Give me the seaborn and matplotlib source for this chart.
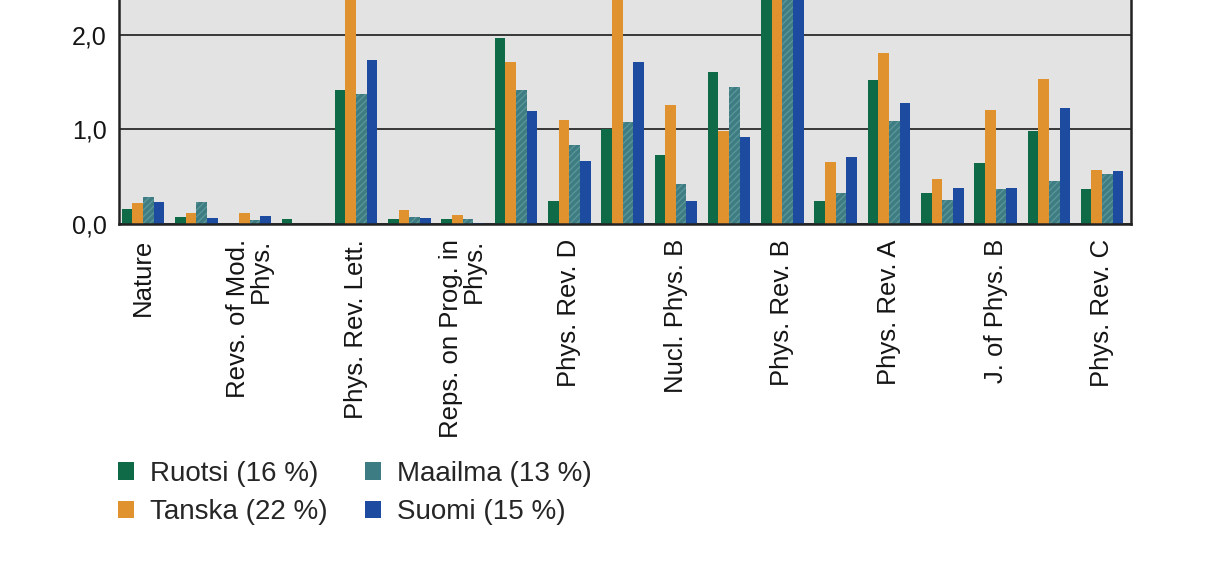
import numpy as np
import pandas as pd
import matplotlib
matplotlib.use("Agg")
import matplotlib.pyplot as plt
import seaborn as sns
from matplotlib.ticker import FuncFormatter

# series (legend order = bar order inside a group)
maat = ["Ruotsi (16 %)", "Tanska (22 %)", "Maailma (13 %)", "Suomi (15 %)"]
varit = ["#0f6a47", "#e0922f", "#3c7c82", "#1d4b9f"]

# tick labels (every second group is labelled)
lehdet = ["Nature", "Revs. of Mod.\nPhys.", "Phys. Rev. Lett.", "Reps. on Prog. in\nPhys.",
          "Phys. Rev. D", "Nucl. Phys. B", "Phys. Rev. B", "Phys. Rev. A",
          "J. of Phys. B", "Phys. Rev. C"]

# values per group (bars over ~2.37 run off the top)
ruotsi  = [0.16, 0.07, 0.00, 0.05, 1.42, 0.05, 0.05, 1.97, 0.24, 1.00,
           0.73, 1.61, 3.00, 0.24, 1.52, 0.33, 0.64, 0.98, 0.37]
tanska  = [0.22, 0.12, 0.12, 0.00, 2.60, 0.15, 0.09, 1.71, 1.10, 2.50,
           1.26, 0.98, 2.80, 0.65, 1.81, 0.47, 1.21, 1.53, 0.57]
maailma = [0.28, 0.23, 0.04, 0.00, 1.38, 0.07, 0.05, 1.42, 0.84, 1.08,
           0.42, 1.45, 2.90, 0.33, 1.09, 0.25, 0.37, 0.45, 0.53]
suomi   = [0.23, 0.06, 0.08, 0.00, 1.73, 0.06, 0.01, 1.19, 0.67, 1.71,
           0.24, 0.92, 3.10, 0.71, 1.28, 0.38, 0.38, 1.23, 0.56]

ryhmat = list(range(len(ruotsi)))

rows = []
for maa, arvot in zip(maat, [ruotsi, tanska, maailma, suomi]):
    for g, v in zip(ryhmat, arvot):
        rows.append({"ryhma": g, "arvo": v, "maa": maa})
df = pd.DataFrame(rows)

sns.set_style("white")
plt.rcParams["font.family"] = ["Liberation Sans", "DejaVu Sans"]

fig = plt.figure(figsize=(12.14, 5.74), dpi=100)
fig.patch.set_facecolor("white")
ax = fig.add_axes([0.098, 0.610, 0.834, 0.39])
ax.set_facecolor("#e3e3e3")

sns.barplot(data=df, x="ryhma", y="arvo", hue="maa", hue_order=maat,
            palette=varit, saturation=1, width=0.8, ax=ax, linewidth=0)

# teal bars have a screened look in the print
for bar in ax.containers[2]:
    bar.set_hatch("/////")
    bar.set_edgecolor("#5a9598")
    bar.set_linewidth(0)

ax.set_ylim(0, 2.37)
ax.set_xlim(-0.45, 18.55)
ax.set_yticks([0, 1, 2])
ax.yaxis.set_major_formatter(FuncFormatter(lambda v, p: f"{v:.1f}".replace(".", ",")))
ax.set_xticks(ryhmat[::2])
ax.set_xticklabels(lehdet, rotation=90, multialignment="right", linespacing=0.95)
ax.tick_params(axis="x", length=0, pad=11, labelsize=18.5, colors="#151515")
ax.tick_params(axis="y", length=0, pad=9, labelsize=18, colors="#151515")
ax.set_xlabel("")
ax.set_ylabel("")

ax.yaxis.grid(True, color="#2a2a2a", linewidth=1.3)
ax.set_axisbelow(True)

for side in ["left", "bottom", "right"]:
    ax.spines[side].set_color("#222222")
    ax.spines[side].set_linewidth(1.8)
ax.spines["top"].set_visible(False)

handles, labels = ax.get_legend_handles_labels()
ax.get_legend().remove()
fig.legend(handles, labels, loc="upper left", bbox_to_anchor=(0.097, 0.197),
           ncol=2, frameon=False, fontsize=20, handlelength=0.6, handleheight=0.6,
           handletextpad=0.55, columnspacing=1.35, labelspacing=0.45, borderpad=0,
           borderaxespad=0)

fig.savefig("out.png", dpi=100)
